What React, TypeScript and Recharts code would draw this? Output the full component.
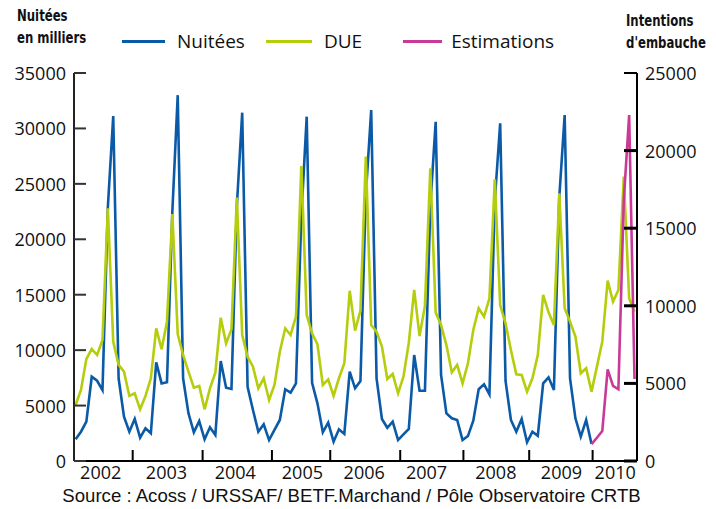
import { ComposedChart, Line, XAxis, YAxis, Legend } from 'recharts'

// months are indexed from Jan 2002 (0) to Sep 2010 (104)
const nuitees = [
    1960, 2640, 3550, 7600, 7240, 6400, 22900, 31120, 7460, 4000, 2640, 3790,
    2100, 2950, 2500, 8900, 7000, 7100, 22500, 33000, 7460, 4300, 2590, 3600,
    1960, 3040, 2350, 9020, 6610, 6500, 23000, 31420, 6700, 4600, 2640, 3310,
    1890, 2800, 3700, 6470, 6160, 7010, 22000, 31060, 7060, 5200, 2590, 3460,
    1740, 2860, 2440, 8060, 6560, 7220, 24000, 31660, 7460, 3790, 3000, 3550,
    1890, 2400, 2890, 9560, 6340, 6340, 23000, 30600, 7760, 4300, 3850, 3700,
    1890, 2250, 3640, 6470, 6920, 6020, 23500, 30460, 7220, 3700, 2640, 3790,
    1690, 2640, 2280, 7000, 7550, 6400, 23800, 31210, 7460, 3850, 2200, 3700,
    1530,
]

const due = [
    3610, 4575, 6570, 7220, 6830, 7800, 16280, 7690, 6190, 5760, 4190, 4360,
    3330, 4190, 5330, 8550, 7200, 8980, 15910, 8180, 6830, 5760, 4720, 4830,
    3330, 4680, 5690, 9230, 7580, 8490, 16970, 8120, 6720, 6080, 4680, 5330,
    3930, 4900, 7040, 8550, 8120, 9300, 19010, 9410, 8230, 7520, 4900, 5260,
    4190, 5330, 6300, 10970, 8400, 9690, 19610, 8760, 8330, 7370, 5280, 5610,
    4360, 5430, 7620, 11020, 8050, 9990, 18860, 9560, 8760, 7470, 5710, 6190,
    5000, 6300, 8440, 9840, 9300, 10480, 18150, 10050, 8870, 7150, 5590, 5540,
    4470, 5330, 6830, 10700, 9580, 8760, 17250, 9840, 8980, 8010, 5650, 5970,
    4470, 6080, 7690, 11620, 10270, 11020, 18320, 10480, 9620,
]

// starts on Jan 2010, last month of the Nuitées series
const estimations = [1530, 2100, 2700, 8270, 6770, 6470, 23500, 31210, 7400]
const estimStart = 96

const leftTicks = [0, 5000, 10000, 15000, 20000, 25000, 30000, 35000]
const rightTicks = [0, 5000, 10000, 15000, 20000, 25000]

// x axis: tick marks and year labels sit where the original put them
const yearMarks = [10.62, 23.63, 36.53, 47.38, 60.4, 72.16, 84.4, 96.2]
const yearLabels = ['2002', '2003', '2004', '2005', '2006', '2007', '2008', '2009', '2010']
const yearLabelPos = [4.67, 16.9, 29.7, 42.2, 53.7, 65.3, 78.2, 90.4, 100.4]

const BLUE = '#0b5aa7'
const GREEN = '#b5cd0c'
const PINK = '#c93a97'

const data = due.map((d, i) => ({
    m: i,
    due: d,
    nuitees: i < nuitees.length ? nuitees[i] : null,
    estim: i >= estimStart ? estimations[i - estimStart] : null,
}))

const tickFont = { fontFamily: '"Open Sans", sans-serif', fontSize: 18, fill: '#111' }

const LeftTick = (props: any) => {
    const { x, y, payload } = props
    return (
        <g>
            <line x1={x} x2={x + 12} y1={y} y2={y} stroke="#333" strokeWidth={2} />
            <text x={x - 8} y={y} textAnchor="end" dominantBaseline="central" {...tickFont}>{payload.value}</text>
        </g>
    )
}

const RightTick = (props: any) => {
    const { x, y, payload } = props
    return (
        <g>
            <line x1={x - 13} x2={x} y1={y} y2={y} stroke="#000" strokeWidth={payload.value === 25000 ? 2 : 3} />
            <text x={x + 8} y={y} textAnchor="start" dominantBaseline="central" {...tickFont}>{payload.value}</text>
        </g>
    )
}

const BottomTick = (props: any) => {
    const { x, y, payload } = props
    const li = yearLabelPos.indexOf(payload.value)
    if (li >= 0) {
        return <text x={x} y={y + 11} textAnchor="middle" dominantBaseline="central" {...tickFont}>{yearLabels[li]}</text>
    }
    return <line x1={x} x2={x} y1={y - 11} y2={y} stroke="#000" strokeWidth={2} />
}

const legendItems = [
    { name: 'Nuitées', color: BLUE, w: 43, gap: 12, after: 21 },
    { name: 'DUE', color: GREEN, w: 46, gap: 12, after: 41 },
    { name: 'Estimations', color: PINK, w: 39, gap: 9, after: 0 },
]

const renderLegend = () => (
    <div style={{ display: 'flex', alignItems: 'center', fontFamily: '"Open Sans", sans-serif', fontSize: 19, color: '#111', whiteSpace: 'nowrap' }}>
        {legendItems.map((it) => (
            <div key={it.name} style={{ display: 'flex', alignItems: 'center', marginRight: it.after }}>
                <span style={{ display: 'inline-block', width: it.w, height: 3, background: it.color, marginRight: it.gap }} />
                <span>{it.name}</span>
            </div>
        ))}
    </div>
)

const titleStyle: any = {
    position: 'absolute',
    fontFamily: '"DejaVu Sans", sans-serif',
    fontWeight: 'bold',
    fontSize: 15,
    lineHeight: '22px',
    color: '#111',
    transform: 'scaleX(0.78)',
    transformOrigin: 'left top',
    whiteSpace: 'nowrap',
}

export default function App() {
    return (
        <div style={{ position: 'relative', width: 716, height: 509, background: '#fff' }}>
            <style>{'body{margin:0}'}</style>
            <div style={{ ...titleStyle, left: 17, top: 5 }}>Nuitées<br />en milliers</div>
            <div style={{ ...titleStyle, left: 626, top: 10 }}>Intentions<br />d'embauche</div>

            <ComposedChart width={716} height={509} data={data}
                margin={{ top: 73, right: 0, left: 0, bottom: 18 }}>
                <XAxis dataKey="m" type="number" domain={[-0.3, 104.46]} allowDataOverflow
                    ticks={[...yearMarks, ...yearLabelPos]} interval={0}
                    tickSize={0} tickMargin={0} tickLine={false} tick={<BottomTick />}
                    axisLine={{ stroke: '#000', strokeWidth: 2 }} height={30} />
                <YAxis yAxisId="l" orientation="left" domain={[0, 35000]} ticks={leftTicks} interval={0}
                    tickSize={0} tickMargin={0} tickLine={false} tick={<LeftTick />}
                    axisLine={{ stroke: '#222', strokeWidth: 2 }} width={74} />
                <YAxis yAxisId="r" orientation="right" domain={[0, 25000]} ticks={rightTicks} interval={0}
                    tickSize={0} tickMargin={0} tickLine={false} tick={<RightTick />}
                    axisLine={{ stroke: '#000', strokeWidth: 2 }} width={79} />
                <Legend layout="horizontal" verticalAlign="middle" align="center" content={renderLegend}
                    wrapperStyle={{ top: 28, left: 122, width: 'auto' }} />
                <Line yAxisId="l" dataKey="nuitees" stroke={BLUE} strokeWidth={2.6} dot={false}
                    isAnimationActive={false} connectNulls={false} />
                <Line yAxisId="r" dataKey="due" stroke={GREEN} strokeWidth={2.6} dot={false}
                    isAnimationActive={false} />
                <Line yAxisId="l" dataKey="estim" stroke={PINK} strokeWidth={2.6} dot={false}
                    isAnimationActive={false} />
            </ComposedChart>

            <div style={{ position: 'absolute', left: 0, width: 703, top: 485, textAlign: 'center', fontFamily: '"Liberation Sans", Arial, sans-serif', fontSize: 18.6, color: '#111', whiteSpace: 'nowrap' }}>
                Source : Acoss / URSSAF/ BETF.Marchand / Pôle Observatoire CRTB
            </div>
        </div>
    )
}
